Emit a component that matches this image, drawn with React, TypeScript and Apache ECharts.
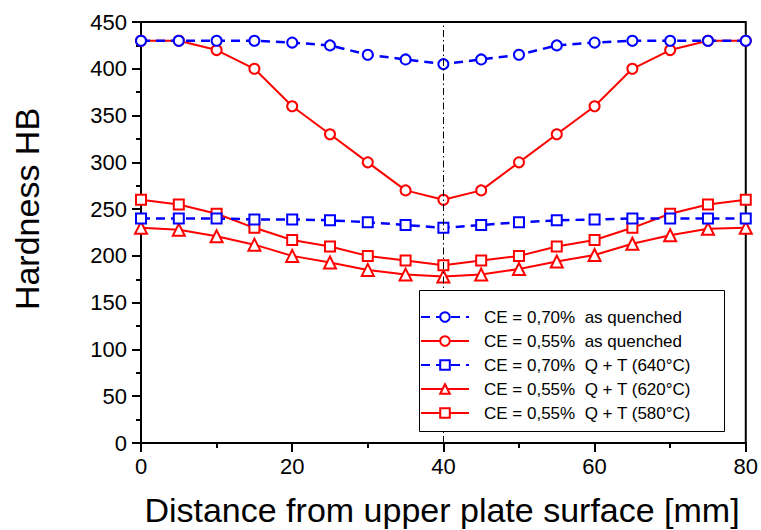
import React, { useEffect, useRef } from "react";
import * as echarts from "echarts";

const distances = [0, 5, 10, 15, 20, 25, 30, 35, 40, 45, 50, 55, 60, 65, 70, 75, 80];
const ce070Quenched = [430, 430, 430, 430, 428, 425, 415, 410, 405, 410, 415, 425, 428, 430, 430, 430, 430];
const ce055Quenched = [430, 430, 420, 400, 360, 330, 300, 270, 260, 270, 300, 330, 360, 400, 420, 430, 430];
const ce070QT640 = [240, 240, 240, 239, 239, 238, 236, 233, 230, 233, 236, 238, 239, 240, 240, 240, 240];
const ce055QT620 = [230, 228, 221, 212, 200, 193, 185, 180, 178, 180, 186, 194, 201, 213, 222, 229, 230];
const ce055QT580 = [260, 255, 245, 230, 217, 210, 200, 195, 190, 195, 200, 210, 217, 230, 245, 255, 260];

const seriesNames = [
  "CE = 0,70%  as quenched",
  "CE = 0,55%  as quenched",
  "CE = 0,70%  Q + T (640°C)",
  "CE = 0,55%  Q + T (620°C)",
  "CE = 0,55%  Q + T (580°C)",
];
const xTitle = "Distance from upper plate surface [mm]";
const yTitle = "Hardness HB";
const centerLine = 40;

const FONT = "Liberation Sans, Arial, sans-serif";
const BLUE = "#0000ff";
const RED = "#ff0000";

const pairs = (ys: number[]) => distances.map((x, i) => [x, ys[i]]);

export default function App() {
  const ref = useRef<HTMLDivElement>(null);
  useEffect(() => {
    if (!ref.current) return;
    const chart = echarts.init(ref.current, undefined, { renderer: "svg" });
    const redLine = (name: string, data: number[], symbol: string, size: number) => ({
      name,
      type: "line",
      data: pairs(data),
      symbol,
      symbolSize: size,
      showAllSymbol: true,
      lineStyle: { color: RED, width: 2, type: "solid" },
      itemStyle: { color: RED, borderColor: RED, borderWidth: 1.5 },
      emphasis: { disabled: true },
      z: 2,
    });
    const blueLine = (name: string, data: number[], symbol: string, size: number) => ({
      name,
      type: "line",
      data: pairs(data),
      symbol,
      symbolSize: size,
      showAllSymbol: true,
      lineStyle: { color: BLUE, width: 2.5, type: [9, 6] },
      itemStyle: { color: BLUE, borderColor: BLUE, borderWidth: 1.5 },
      emphasis: { disabled: true },
      z: 2,
    });
    const s055q: any = redLine(seriesNames[1], ce055Quenched, "emptyCircle", 10);
    s055q.markLine = {
      silent: true,
      symbol: ["none", "none"],
      label: { show: false },
      lineStyle: { color: "#000", width: 1, type: [7, 3, 1.5, 3] },
      emphasis: { disabled: true },
      data: [{ xAxis: centerLine }],
    };
    chart.setOption({
      animation: false,
      backgroundColor: "#fff",
      grid: {
        left: 141,
        right: 14,
        top: 22,
        bottom: 87,
        show: true,
        borderColor: "#000",
        borderWidth: 2,
        backgroundColor: "transparent",
      },
      xAxis: {
        type: "value",
        min: 0,
        max: 80,
        interval: 20,
        axisLine: { show: true, onZero: false, lineStyle: { color: "#000", width: 2 } },
        axisTick: { show: true, inside: false, length: 9, lineStyle: { color: "#000", width: 2 } },
        minorTick: { show: true, splitNumber: 2, length: 5, lineStyle: { color: "#000", width: 2 } },
        splitLine: { show: false },
        axisLabel: { fontSize: 22, fontFamily: FONT, color: "#000", margin: 12 },
      },
      yAxis: {
        type: "value",
        min: 0,
        max: 450,
        interval: 50,
        axisLine: { show: true, onZero: false, lineStyle: { color: "#000", width: 2 } },
        axisTick: { show: true, inside: false, length: 9, lineStyle: { color: "#000", width: 2 } },
        minorTick: { show: true, splitNumber: 2, length: 5, lineStyle: { color: "#000", width: 2 } },
        splitLine: { show: false },
        axisLabel: { fontSize: 22, fontFamily: FONT, color: "#000", margin: 14 },
      },
      legend: {
        orient: "vertical",
        left: 420,
        top: 308,
        itemWidth: 48,
        itemHeight: 12,
        itemGap: 6,
        padding: 0,
        z: 10,
        data: seriesNames,
        textStyle: { fontSize: 17, lineHeight: 18, fontFamily: FONT, color: "#000", padding: [0, 0, 0, 10] },
        selectedMode: false,
      },
      graphic: [
        {
          type: "rect",
          z: 8,
          shape: { x: 419.5, y: 290.5, width: 305, height: 141 },
          style: { fill: "#fff", stroke: "#000", lineWidth: 1 },
          silent: true,
        },
        {
          type: "text",
          x: 27,
          y: 209,
          rotation: Math.PI / 2,
          style: {
            text: yTitle,
            fontSize: 34,
            fontFamily: FONT,
            fill: "#000",
            align: "center",
            verticalAlign: "middle",
          },
        },
        {
          type: "text",
          x: 442,
          y: 510,
          style: {
            text: xTitle,
            fontSize: 34,
            fontFamily: FONT,
            fill: "#000",
            align: "center",
            verticalAlign: "middle",
          },
        },
      ],
      series: [
        s055q,
        redLine(seriesNames[3], ce055QT620, "emptyTriangle", 12),
        redLine(seriesNames[4], ce055QT580, "emptyRect", 10),
        blueLine(seriesNames[0], ce070Quenched, "emptyCircle", 10),
        blueLine(seriesNames[2], ce070QT640, "emptyRect", 10),
      ],
    });
    return () => chart.dispose();
  }, []);
  return <div ref={ref} style={{ width: 761, height: 530, position: "absolute", left: 0, top: 0 }} />;
}
